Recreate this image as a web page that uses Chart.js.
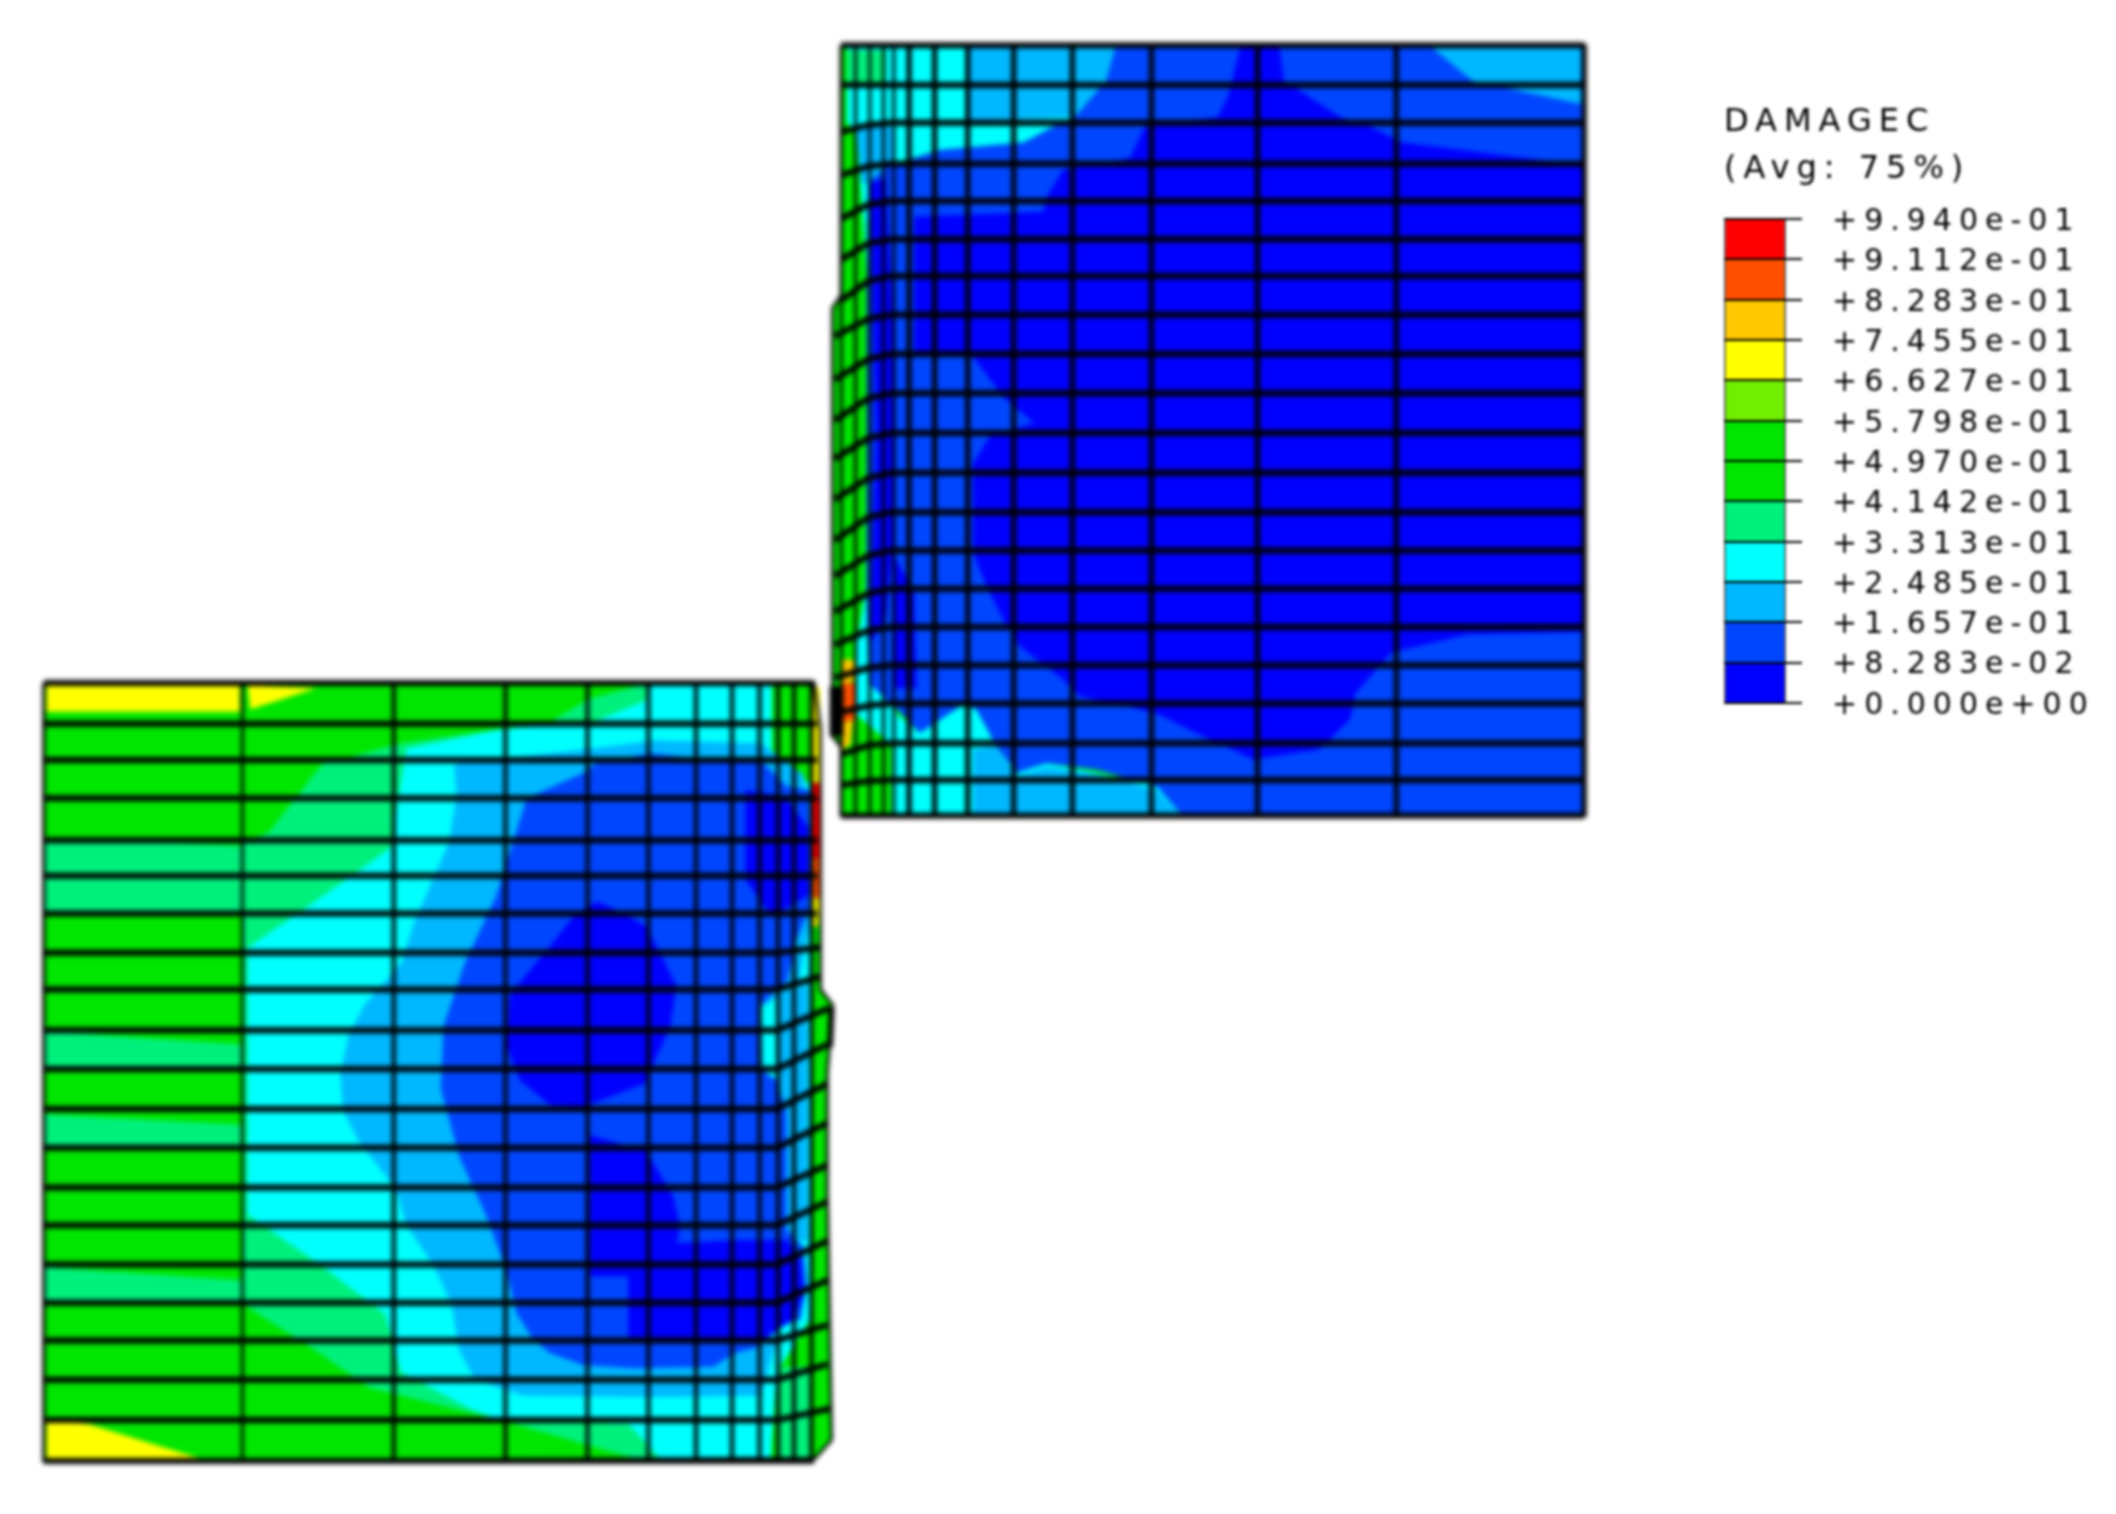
<!DOCTYPE html>
<html>
<head>
<meta charset="utf-8">
<title>DAMAGEC</title>
<script src="https://cdn.jsdelivr.net/npm/chart.js@4"></script>
<style>
  html, body { margin: 0; padding: 0; background: #fff; }
  #page { position: relative; width: 2116px; height: 1514px; overflow: hidden; }
  canvas { position: absolute; }
  #meshChart { left: 0; top: 0; filter: blur(2.5px); }
  #legendChart { left: 1700px; top: 90px; filter: blur(1.5px); }
</style>
</head>
<body>
<div id="page">
  <canvas id="meshChart" width="2116" height="1514"></canvas>
  <canvas id="legendChart" width="416" height="661"></canvas>
</div>
<script>
'use strict'

// contour legend
const levels = [0, 0.08283, 0.1657, 0.2485, 0.3313, 0.4142, 0.4970, 0.5798, 0.6627, 0.7455, 0.8283, 0.9112, 0.9940];
const tickLabels = ['+0.000e+00', '+8.283e-02', '+1.657e-01', '+2.485e-01', '+3.313e-01', '+4.142e-01', '+4.970e-01',
    '+5.798e-01', '+6.627e-01', '+7.455e-01', '+8.283e-01', '+9.112e-01', '+9.940e-01'];
const bandColors = ['#0000ff', '#0046ff', '#00b8ff', '#00ffff', '#00f07c', '#00e600', '#00e600', '#70f000', '#ffff00', '#ffc800', '#ff5000', '#ff0000'];

// mesh lines of the lower block
const lowerMeshX = [45, 420, 706, 917, 1072, 1187, 1277, 1345, 1397, 1432, 1462, 1495];
const lowerMeshY = [25, 103, 172, 245, 325, 393, 465, 540, 610, 688, 762, 838, 912, 988, 1060, 1135, 1208, 1280, 1355, 1432, 1510];
const lowerRowEndX = [1500, 1505, 1505, 1505, 1505, 1505, 1505, 1510, 1512, 1530, 1525, 1525, 1525, 1525, 1525, 1525, 1525, 1525, 1525, 1530, 1500];
const lowerRowEndY = [25, 103, 172, 245, 325, 393, 465, 530, 585, 645, 715, 790, 865, 945, 1015, 1090, 1165, 1250, 1325, 1410, 1510];

// mesh lines of the upper block
const upperMeshX = [22, 50, 78, 105, 125, 155, 205, 270, 360, 475, 630, 838, 1110, 1478];
const upperMeshY = [30, 108, 182, 262, 335, 410, 482, 558, 635, 712, 790, 868, 945, 1020, 1095, 1170, 1245, 1320, 1398, 1470, 1540];
const upperRowStartX = [22, 22, 22, 22, 22, 22, 22, 10, 10, 10, 10, 10, 10, 10, 10, 10, 10, 10, 22, 22, 22];
const upperRowStartY = [30, 108, 200, 285, 370, 450, 530, 600, 685, 765, 840, 920, 1000, 1070, 1140, 1205, 1270, 1340, 1420, 1480, 1540];
const upperRowKneeY = [30, 108, 186, 267, 342, 418, 492, 566, 645, 722, 800, 878, 955, 1030, 1104, 1177, 1250, 1324, 1402, 1472, 1540];

// contour regions of the lower block
const lowerOutline = [[45, 25], [1500, 25], [1512, 110], [1512, 610], [1535, 640], [1525, 770], [1525, 1000], [1533, 1470], [1502, 1505], [45, 1510]];
const lowerLightMain = [[1190, 25], [1075, 55], [1000, 100], [720, 140], [570, 180], [470, 310], [420, 330], [420, 1210], [560, 1300], [660, 1370], [900, 1430], [1180, 1510], [1420, 1510], [1420, 25]];
const lowerLightRowA = [[45, 325], [420, 335], [420, 465], [45, 460]];
const lowerLightRowB = [[45, 690], [420, 715], [420, 762], [45, 762]];
const lowerLightRowC = [[45, 848], [420, 868], [420, 912], [45, 912]];
const lowerLightRowD = [[45, 1140], [420, 1165], [420, 1208], [45, 1208]];
const lowerCornerLight = [[1432, 1330], [1490, 1330], [1490, 1508], [1432, 1508]];
const lowerCyan = [[1190, 25], [1180, 60], [1080, 100], [900, 115], [730, 150], [700, 340], [560, 440], [430, 530], [430, 1040], [560, 1130], [690, 1230], [720, 1340], [850, 1410], [907, 1432], [1150, 1440], [1209, 1505], [1417, 1510], [1430, 1340], [1492, 1240], [1492, 620], [1498, 470], [1498, 220], [1420, 170], [1420, 25]];
const lowerSky = [[820, 180], [1080, 150], [1200, 135], [1400, 140], [1480, 200], [1495, 470], [1470, 600], [1400, 645], [1415, 1000], [1440, 1240], [1400, 1385], [1200, 1388], [950, 1385], [860, 1355], [830, 1300], [815, 1210], [780, 1135], [730, 1060], [710, 990], [640, 900], [610, 840], [605, 770], [620, 700], [650, 640], [720, 560], [745, 480], [780, 400], [810, 330], [825, 240]];
const lowerRightSky = [[1432, 620], [1487, 600], [1487, 1090], [1432, 1090]];
const lowerMid = [[957, 245], [1064, 197], [1089, 178], [1190, 159], [1310, 172], [1398, 172], [1448, 222], [1490, 229], [1490, 458], [1467, 515], [1449, 592], [1398, 642], [1398, 763], [1430, 783], [1448, 846], [1448, 1069], [1480, 1101], [1486, 1177], [1474, 1241], [1436, 1247], [1398, 1292], [1348, 1305], [1310, 1330], [1159, 1333], [1064, 1327], [1001, 1304], [970, 1279], [938, 1228], [920, 1150], [880, 1040], [830, 930], [795, 800], [800, 680], [840, 560], [900, 430], [940, 300]];
const lowerDeepA = [[1089, 442], [1115, 452], [1184, 490], [1240, 604], [1228, 680], [1180, 790], [1064, 834], [1001, 830], [944, 783], [920, 720], [925, 623], [938, 604], [1001, 528], [1045, 471]];
const lowerDeepB = [[1077, 888], [1184, 920], [1234, 1005], [1247, 1063], [1241, 1094], [1360, 1088], [1449, 1088], [1474, 1126], [1480, 1190], [1461, 1241], [1392, 1285], [1149, 1273], [1149, 1158], [1077, 1158]];
const lowerDeepC = [[1370, 230], [1440, 240], [1490, 300], [1490, 430], [1420, 470], [1370, 400]];
const lowerYellowTop = [[50, 30], [415, 30], [415, 80], [50, 80]];
const lowerYellowWedgeTop = [[430, 30], [560, 35], [435, 75]];
const lowerYellowWedgeBottom = [[50, 1432], [130, 1440], [350, 1508], [50, 1508]];
const lowerRimYellow = [[1498, 33], [1511, 33], [1511, 216], [1498, 216]];
const lowerRimRed = [[1498, 216], [1511, 216], [1511, 360], [1498, 360]];
const lowerRimOrange = [[1498, 360], [1511, 360], [1511, 436], [1498, 436]];
const lowerRimYellowEnd = [[1498, 436], [1511, 436], [1507, 490], [1498, 490]];
const lowerShoulderEdge = [[1533, 645], [1530, 720]];

// contour regions of the upper block
const upperOutline = [[22, 30], [1480, 30], [1480, 1540], [22, 1540], [22, 1405], [5, 1384], [5, 545], [22, 520]];
const upperTopLight = [[33, 40], [110, 40], [110, 105], [33, 105]];
const upperCyan = [[33, 30], [560, 30], [540, 100], [480, 170], [425, 196], [380, 220], [215, 235], [90, 270], [72, 380], [72, 800], [70, 1100], [50, 1220], [50, 1340], [120, 1400], [120, 1540], [690, 1540], [640, 1480], [424, 1437], [366, 1456], [326, 1404], [287, 1332], [261, 1322], [176, 1378], [130, 1340], [60, 300], [52, 200], [33, 180]];
const upperMid = [[560, 30], [1480, 30], [1480, 1540], [692, 1541], [640, 1482], [522, 1450], [424, 1437], [366, 1456], [326, 1404], [287, 1332], [261, 1322], [176, 1378], [130, 1330], [75, 1280], [72, 1120], [72, 800], [72, 500], [75, 300], [100, 270], [215, 235], [380, 220], [425, 196], [480, 170], [540, 100]];
const upperSkyTop = [[270, 30], [560, 30], [545, 85], [530, 110], [480, 170], [270, 178]];
const upperSkyLeft = [[55, 190], [125, 190], [125, 255], [75, 300], [60, 300]];
const upperSkyBottom = [[281, 1410], [326, 1404], [366, 1462], [424, 1445], [522, 1458], [640, 1490], [692, 1541], [281, 1541]];
const upperSkyCorner = [[1180, 35], [1472, 35], [1472, 145], [1260, 100]];
const upperDeep = [[805, 30], [880, 30], [890, 100], [1000, 170], [1060, 190], [1120, 220], [1478, 265], [1478, 1180], [1250, 1185], [1100, 1220], [1030, 1300], [1020, 1350], [960, 1410], [830, 1430], [731, 1384], [640, 1339], [490, 1306], [457, 1273], [372, 1208], [340, 1156], [307, 1090], [281, 1025], [280, 850], [313, 797], [400, 770], [340, 720], [280, 640], [165, 640], [165, 366], [418, 356], [425, 327], [457, 274], [588, 251], [617, 190], [760, 170], [780, 130]];
const upperDeepStrip = [[80, 300], [110, 290], [125, 600], [125, 1000], [110, 1150], [80, 1200], [90, 800]];
const upperDeepLow = [[125, 1030], [165, 1100], [170, 1290], [125, 1290]];
const upperHotTop = [[25, 1234], [45, 1234], [50, 1273], [25, 1285]];
const upperHotRed = [[20, 1280], [49, 1280], [49, 1352], [25, 1358]];
const upperHotBottom = [[25, 1358], [45, 1352], [40, 1400], [25, 1410]];
const upperCrackEdge = [[13, 1286], [13, 1384]];

function toPoints(pairs) {
    return pairs.map(p => ({ x: p[0], y: p[1] }));
}

function region(pairs, band, block) {
    return {
        data: toPoints(pairs),
        showLine: true,
        fill: 'shape',
        backgroundColor: bandColors[band],
        borderWidth: 0,
        pointRadius: 0,
        xAxisID: 'x' + block,
        yAxisID: 'y' + block,
        clip: false
    };
}

function meshLine(pairs, width, block) {
    return {
        data: toPoints(pairs),
        showLine: true,
        fill: false,
        borderColor: '#000',
        borderWidth: width,
        pointRadius: 0,
        xAxisID: 'x' + block,
        yAxisID: 'y' + block,
        clip: false
    };
}

// painted bottom to top
const layers = [
    region(lowerOutline, 5, 'L'),
    region(lowerLightMain, 4, 'L'),
    region(lowerLightRowA, 4, 'L'),
    region(lowerLightRowB, 4, 'L'),
    region(lowerLightRowC, 4, 'L'),
    region(lowerLightRowD, 4, 'L'),
    region(lowerCyan, 3, 'L'),
    region(lowerCornerLight, 4, 'L'),
    region(lowerSky, 2, 'L'),
    region(lowerRightSky, 2, 'L'),
    region(lowerMid, 1, 'L'),
    region(lowerDeepA, 0, 'L'),
    region(lowerDeepB, 0, 'L'),
    region(lowerDeepC, 0, 'L'),
    region(lowerYellowTop, 8, 'L'),
    region(lowerYellowWedgeTop, 8, 'L'),
    region(lowerYellowWedgeBottom, 8, 'L'),
    region(lowerRimYellow, 8, 'L'),
    region(lowerRimRed, 11, 'L'),
    region(lowerRimOrange, 10, 'L'),
    region(lowerRimYellowEnd, 8, 'L'),
    region(upperOutline, 5, 'U'),
    region(upperCyan, 3, 'U'),
    region(upperTopLight, 4, 'U'),
    region(upperMid, 1, 'U'),
    region(upperSkyTop, 2, 'U'),
    region(upperSkyLeft, 2, 'U'),
    region(upperSkyBottom, 2, 'U'),
    region(upperSkyCorner, 2, 'U'),
    region(upperDeep, 0, 'U'),
    region(upperDeepStrip, 0, 'U'),
    region(upperDeepLow, 0, 'U'),
    region(upperHotTop, 9, 'U'),
    region(upperHotRed, 10, 'U'),
    region(upperHotBottom, 9, 'U')
];

lowerMeshX.forEach(x => {
    layers.push(meshLine([[x, 25], [x, 1510]], x < 500 ? 3 : 4, 'L'));
});
lowerMeshY.forEach((y, i) => {
    layers.push(meshLine([[45, y], [1430, y], [lowerRowEndX[i], lowerRowEndY[i]]], 6, 'L'));
});
upperMeshX.forEach(x => {
    layers.push(meshLine([[x, 30], [x, 1540]], x < 150 ? 3 : 5, 'U'));
});
upperMeshY.forEach((y, i) => {
    layers.push(meshLine([[upperRowStartX[i], upperRowStartY[i]], [75, upperRowKneeY[i]], [120, y], [1478, y]], 6, 'U'));
});
layers.push(meshLine(upperCrackEdge, 14, 'U'));
layers.push(meshLine(lowerShoulderEdge, 6, 'L'));
layers.push(meshLine(upperOutline.concat([upperOutline[0]]), 3, 'U'));
layers.push(meshLine(lowerOutline.concat([lowerOutline[0]]), 3, 'L'));

// the library paints the first dataset last
layers.reverse();

new Chart(document.getElementById('meshChart'), {
    type: 'scatter',
    data: { datasets: layers },
    options: {
        responsive: false,
        animation: false,
        layout: { padding: 0 },
        plugins: { legend: { display: false }, tooltip: { enabled: false } },
        scales: {
            xL: { axis: 'x', type: 'linear', display: false, min: -37.8, max: 3959.3 },
            yL: { axis: 'y', type: 'linear', display: false, min: -1278.6, max: 1611.2, reverse: true },
            xU: { axis: 'x', type: 'linear', display: false, min: -1626.8, max: 2520.6 },
            yU: { axis: 'y', type: 'linear', display: false, min: -58.8, max: 2908.6, reverse: true }
        }
    }
});

const spacedText = {
    id: 'spacedText',
    beforeDraw(chart) {
        chart.ctx.letterSpacing = '7px';
    }
};

new Chart(document.getElementById('legendChart'), {
    type: 'bar',
    data: {
        labels: ['DAMAGEC'],
        datasets: bandColors.map((color, i) => ({
            data: [[levels[i], levels[i + 1]]],
            backgroundColor: color,
            borderColor: 'rgba(0, 0, 0, 0.65)',
            borderWidth: { left: 2, right: 2, top: 0, bottom: 0 },
            borderSkipped: false,
            barPercentage: 1,
            categoryPercentage: 1,
            grouped: false
        }))
    },
    plugins: [spacedText],
    options: {
        responsive: false,
        animation: false,
        layout: { padding: { left: 24, right: 0, top: 0, bottom: 27 } },
        plugins: {
            legend: { display: false },
            tooltip: { enabled: false },
            title: {
                display: true,
                text: ['DAMAGEC', '(Avg: 75%)'],
                align: 'start',
                color: '#000',
                font: { family: 'DejaVu Sans', size: 32, weight: 'normal', lineHeight: 1.47 },
                padding: { top: 9, bottom: 26 }
            }
        },
        scales: {
            x: { type: 'category', display: false },
            y: {
                position: 'right',
                min: 0,
                max: 0.994,
                afterBuildTicks(scale) {
                    scale.ticks = levels.map(v => ({ value: v }));
                },
                afterFit(scale) {
                    scale.width = 330;
                },
                grid: { color: '#000', lineWidth: 2, tickLength: 16, z: 1 },
                border: { display: false },
                ticks: {
                    autoSkip: false,
                    padding: 30,
                    labelOffset: 3,
                    color: '#000',
                    font: { family: 'DejaVu Sans', size: 30 },
                    callback(value, index) {
                        return tickLabels[index];
                    }
                }
            }
        }
    }
});
</script>
</body>
</html>
